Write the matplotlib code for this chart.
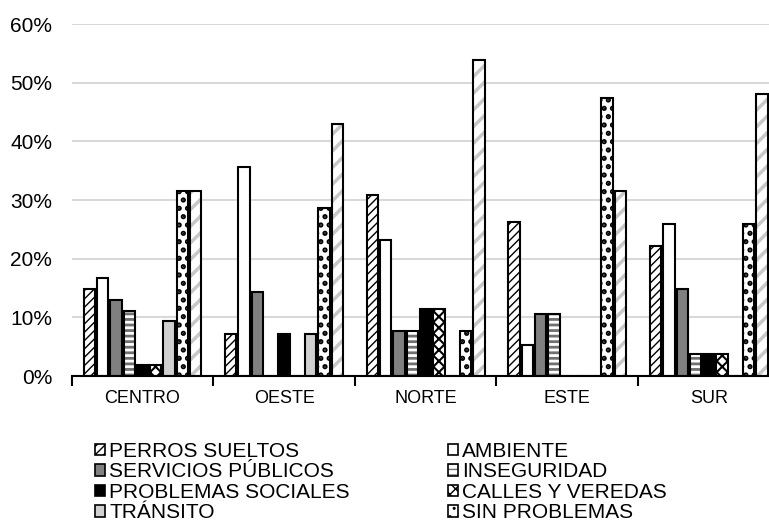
import matplotlib
matplotlib.use('Agg')
import matplotlib.pyplot as plt
from matplotlib.patches import Patch
from matplotlib.ticker import PercentFormatter, FixedLocator
from matplotlib.legend_handler import HandlerTuple
import numpy as np

plt.rcParams['font.family'] = ['Liberation Sans', 'DejaVu Sans']
plt.rcParams['hatch.linewidth'] = 1.0

zonas = ['CENTRO', 'OESTE', 'NORTE', 'ESTE', 'SUR']
series = ['PERROS SUELTOS', 'AMBIENTE', 'SERVICIOS PÚBLICOS', 'INSEGURIDAD',
          'PROBLEMAS SOCIALES', 'CALLES Y VEREDAS', 'TRÁNSITO', 'SIN PROBLEMAS', 'OTROS']

# valores en % por zona (orden de series)
perros = [14.8, 7.1, 30.8, 26.3, 22.2]
ambiente = [16.7, 35.7, 23.1, 5.3, 25.9]
servicios = [13.0, 14.3, 7.7, 10.5, 14.8]
inseguridad = [11.1, 0.0, 7.7, 10.5, 3.7]
sociales = [1.85, 7.1, 11.5, 0.0, 3.7]
calles = [1.85, 0.0, 11.5, 0.0, 3.7]
transito = [9.3, 7.1, 0.0, 0.0, 0.0]
sin_problemas = [31.5, 28.6, 7.7, 47.4, 25.9]
otros = [31.5, 42.9, 53.8, 31.6, 48.1]

valores = [perros, ambiente, servicios, inseguridad, sociales, calles,
           transito, sin_problemas, otros]

# estilo: (relleno, trama, color de trama, grosor de trama)
estilos = [
    ('white', '////', 'black', 1.0),
    ('white', None, 'black', 1.0),
    ('#808080', None, 'black', 1.0),
    ('white', '---', '#707070', 2.0),
    ('black', None, 'black', 1.0),
    ('white', 'xxx', 'black', 1.5),
    ('#d0d0d0', None, 'black', 1.0),
    ('white', '..', 'black', 2.5),
    ('white', '//', '#c8c8c8', 2.5),
]


def set_hlw(p, lw):
    if hasattr(p, 'set_hatch_linewidth'):
        p.set_hatch_linewidth(lw)


fig = plt.figure(figsize=(7.69, 5.24), dpi=100)
ax = fig.add_axes([71.7 / 769, 1 - 376 / 524, (779.6 - 71.7) / 769, (376 - 24) / 524])

x = np.arange(len(zonas))
paso = 0.094
ancho = 0.08
handles = []
for i, (vals, (fc, hatch, hc, hlw)) in enumerate(zip(valores, estilos)):
    pos = x + (i - 4) * paso
    barras = ax.bar(pos, vals, width=ancho, color=fc, hatch=hatch, edgecolor=hc,
                    linewidth=0, zorder=3)
    for b in barras:
        set_hlw(b, hlw)
    ax.bar(pos, vals, width=ancho, facecolor='none', edgecolor='black',
           linewidth=1.5, zorder=4)
    h1 = Patch(facecolor=fc, hatch=hatch, edgecolor=hc, linewidth=0)
    set_hlw(h1, hlw)
    h2 = Patch(facecolor='none', edgecolor='black', linewidth=1.2)
    handles.append((h1, h2))

ax.set_xlim(-0.5, 4.5)
ax.set_ylim(0, 60)
ax.yaxis.set_major_formatter(PercentFormatter(xmax=100, decimals=0))
ax.set_yticks(np.arange(0, 61, 10))
ax.grid(axis='y', color='#d9d9d9', linewidth=1.5, zorder=0)
ax.set_axisbelow(True)

for s in ['top', 'right', 'left']:
    ax.spines[s].set_visible(False)
ax.spines['bottom'].set_linewidth(1.5)
ax.spines['bottom'].set_zorder(5)

ax.set_xticks(x)
ax.set_xticklabels(zonas, fontsize=13)
ax.xaxis.set_minor_locator(FixedLocator(np.arange(-0.5, 5, 1)))
ax.tick_params(axis='x', which='major', length=0, pad=10)
ax.tick_params(axis='x', which='minor', length=7, width=1.5, direction='out')
ax.tick_params(axis='y', length=0, pad=14, labelsize=15)

# leyenda en dos columnas, orden por columnas
orden = [0, 2, 4, 6, 1, 3, 5, 7]
fig.legend([handles[k] for k in orden], [series[k] for k in orden],
           handler_map={tuple: HandlerTuple(ndivide=1, pad=0)},
           loc='upper left', bbox_to_anchor=(95 / 769, 1 - 442 / 524),
           ncol=2, frameon=False, fontsize=15, borderpad=0, borderaxespad=0,
           labelspacing=0.07, handlelength=0.48, handleheight=0.48,
           handletextpad=0.2, columnspacing=4.7)

fig.savefig('out.png', dpi=100)
